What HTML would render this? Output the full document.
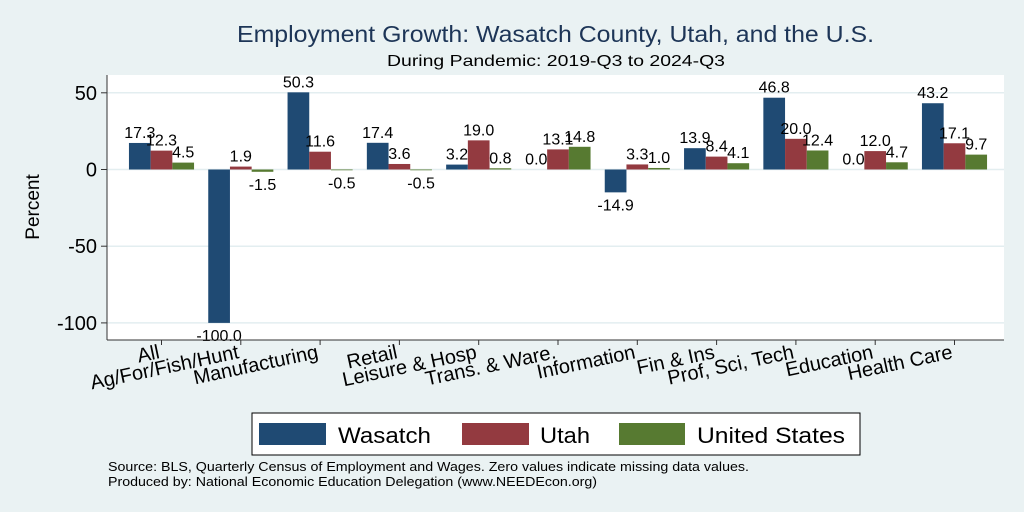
<!DOCTYPE html>
<html><head><meta charset="utf-8"><style>
body{margin:0;background:#eaf2f3;}
svg{display:block;font-family:"Liberation Sans",Arial,sans-serif;}
</style></head><body>
<svg id="c" width="1024" height="512">
<rect width="1024" height="512" fill="#eaf2f3"/>
<rect x="107" y="75" width="897" height="265" fill="#fff"/>
<text x="237" y="42" font-size="23" fill="#1d3557" textLength="637" lengthAdjust="spacingAndGlyphs">Employment Growth: Wasatch County, Utah, and the U.S.</text>
<text x="387" y="66" font-size="16" fill="#000" textLength="338" lengthAdjust="spacingAndGlyphs">During Pandemic: 2019-Q3 to 2024-Q3</text>
<text transform="translate(39,207) rotate(-90)" font-size="19" text-anchor="middle">Percent</text>
<g id="grid"></g><g id="bars"></g><g id="labels"></g>
<line x1="107" y1="75" x2="107" y2="340" stroke="#333" stroke-width="1"/>
<line x1="107" y1="340" x2="1004" y2="340" stroke="#333" stroke-width="1"/>
<g>
<rect x="252" y="413" width="608" height="42" fill="#fff" stroke="#000" stroke-width="1"/>
<rect x="259" y="423" width="67" height="22" fill="#1f4a73"/>
<text x="338" y="443" font-size="22" textLength="93" lengthAdjust="spacingAndGlyphs">Wasatch</text>
<rect x="462" y="423" width="67" height="22" fill="#933a40"/>
<text x="540" y="443" font-size="22" textLength="50" lengthAdjust="spacingAndGlyphs">Utah</text>
<rect x="619" y="423" width="66" height="22" fill="#577a31"/>
<text x="697" y="443" font-size="22" textLength="148" lengthAdjust="spacingAndGlyphs">United States</text>
</g>
<text x="108" y="471" font-size="13" textLength="641" lengthAdjust="spacingAndGlyphs">Source: BLS, Quarterly Census of Employment and Wages. Zero values indicate missing data values.</text>
<text x="108" y="486" font-size="13" textLength="489" lengthAdjust="spacingAndGlyphs">Produced by: National Economic Education Delegation (www.NEEDEcon.org)</text>
</svg>
<script>
const categories=["All","Ag/For/Fish/Hunt","Manufacturing","Retail","Leisure & Hosp","Trans. & Ware.","Information","Fin & Ins","Prof, Sci, Tech","Education","Health Care"];
const wasatch=[17.3,-100.0,50.3,17.4,3.2,0.0,-14.9,13.9,46.8,0.0,43.2];
const utah=[12.3,1.9,11.6,3.6,19.0,13.1,3.3,8.4,20.0,12.0,17.1];
const us=[4.5,-1.5,-0.5,-0.5,0.8,14.8,1.0,4.1,12.4,4.7,9.7];
const yTicks=[50,0,-50,-100];
const NS="http://www.w3.org/2000/svg";
const y=v=>169.5-v*(76.7/50);
const xc=i=>161.5+i*79.3;
const bw=21.7;
function mk(t,a,p){const e=document.createElementNS(NS,t);for(const k in a)e.setAttribute(k,a[k]);p.appendChild(e);return e;}
const grid=document.getElementById('grid'),bars=document.getElementById('bars'),labs=document.getElementById('labels');
yTicks.forEach(t=>{
 const l=mk('line',{x1:107,x2:1004,y1:y(t),y2:y(t),stroke:'#e3eef0','stroke-width':1.5},grid);
 
 
 const k=mk('line',{x1:101,x2:107,y1:y(t),y2:y(t),stroke:'#333'},grid);
 
 
 const tx=mk('text',{x:97,y:y(t)+7,'font-size':20,'text-anchor':'end'},grid);tx.textContent=t;
 
 
});
const series=[[wasatch,'#1f4a73','wasatch'],[utah,'#933a40','utah'],[us,'#577a31','us']];
categories.forEach((c,i)=>{
 series.forEach(([arr,col,nm],s)=>{
  const v=arr[i],x0=xc(i)-1.5*bw+s*bw;
  const r=mk('rect',{x:x0,y:Math.min(y(v),y(0)),width:bw,height:Math.abs(y(v)-y(0)),fill:col},bars);
  
  
  const ty=v>=0?y(v)-5:y(v)+18;
  const t=mk('text',{x:x0+bw/2,y:ty,'font-size':16,'text-anchor':'middle'},labs);t.textContent=v.toFixed(1);
  
  
 });
 const k=mk('line',{x1:xc(i),x2:xc(i),y1:340,y2:345,stroke:'#333'},grid);
 
 
 const t=mk('text',{x:0,y:0,'font-size':20,'text-anchor':'end',transform:`translate(${xc(i)-1},358) rotate(-12)`},labs);
 t.textContent=c;
 
 
});
</script>
</body></html>
